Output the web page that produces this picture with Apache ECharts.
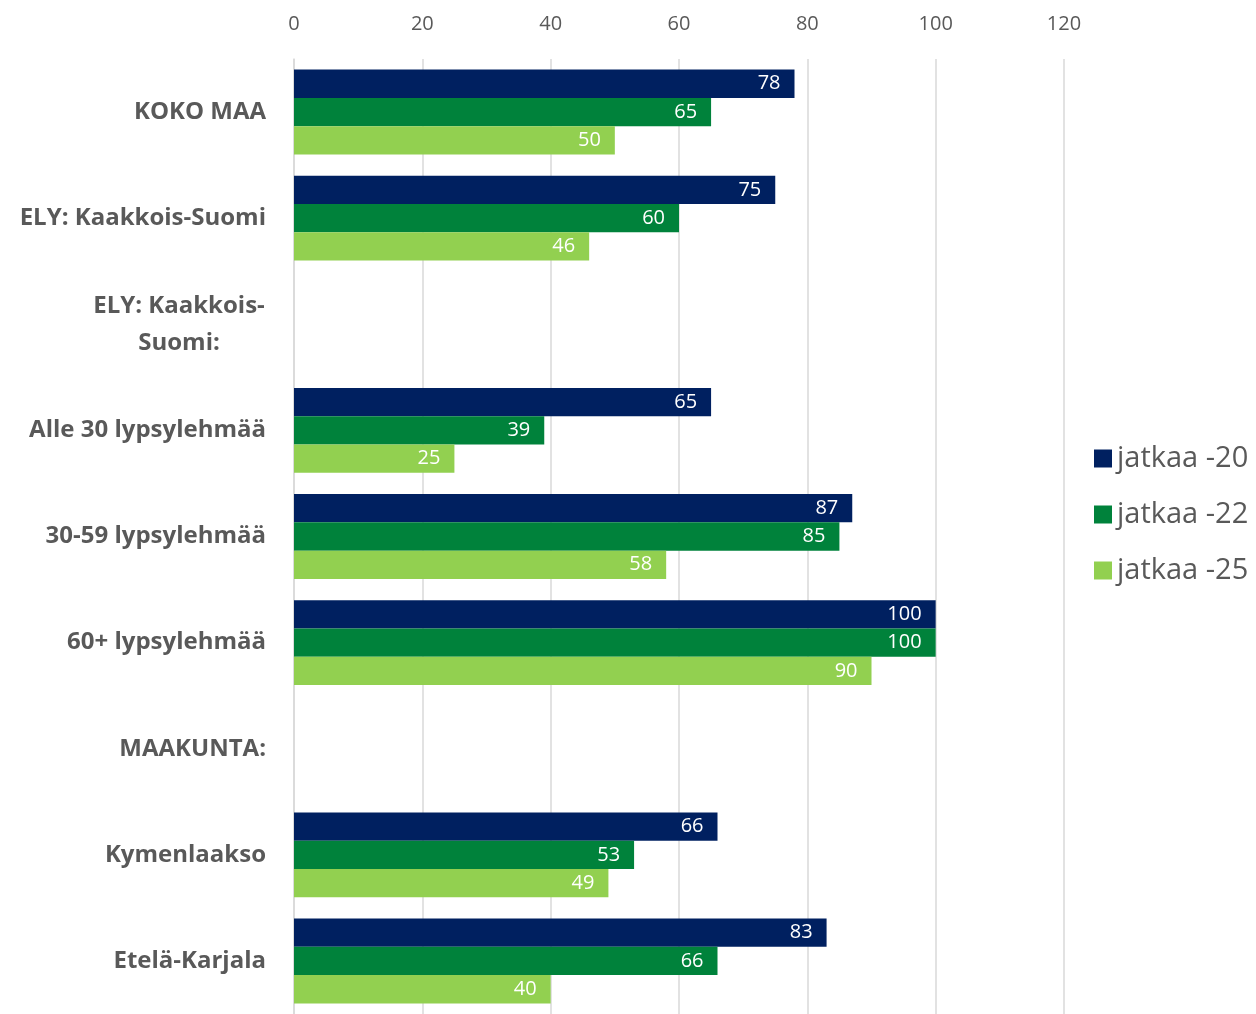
<!DOCTYPE html>
<html>
<head>
<meta charset="utf-8">
<script src="https://cdn.jsdelivr.net/npm/echarts@6/dist/echarts.min.js"></script>
<style>
  html, body { margin: 0; padding: 0; background: #fff; }
  #chart { width: 1256px; height: 1014px; }
</style>
</head>
<body>
<div id="chart"></div>
<script>
// categories top to bottom
const categories = [
  'KOKO MAA',
  'ELY: Kaakkois-Suomi',
  'ELY: Kaakkois-\nSuomi:',
  'Alle 30 lypsylehmää',
  '30-59 lypsylehmää',
  '60+ lypsylehmää',
  'MAAKUNTA:',
  'Kymenlaakso',
  'Etelä-Karjala'
];
const seriesNames = ['jatkaa -20', 'jatkaa -22', 'jatkaa -25'];
const jatkaa20 = [78, 75, null, 65, 87, 100, null, 66, 83];
const jatkaa22 = [65, 60, null, 39, 85, 100, null, 53, 66];
const jatkaa25 = [50, 46, null, 25, 58, 90, null, 49, 40];
const xTicks = { min: 0, max: 120, interval: 20 };

const colors = ['#002060', '#00823b', '#92d050'];
const textColor = '#595959';
const font = '"Open Sans", "Noto Sans", sans-serif';

const chart = echarts.init(document.getElementById('chart'));

function bar(name, data, color) {
  return {
    name: name,
    type: 'bar',
    data: data,
    barGap: 0,
    barCategoryGap: '20%',
    itemStyle: { color: color },
    label: {
      show: true,
      position: 'insideRight',
      color: '#fff',
      fontSize: 20,
      fontFamily: font,
      distance: 14
    }
  };
}

chart.setOption({
  animation: false,
  color: colors,
  grid: { left: 294, right: 192, top: 59, bottom: -6, containLabel: false },
  legend: {
    orient: 'vertical',
    left: 1089,
    top: 439,
    itemWidth: 18,
    itemHeight: 18,
    itemGap: 27,
    icon: 'rect',
    textStyle: { color: textColor, fontSize: 29, fontFamily: font },
    data: seriesNames
  },
  xAxis: {
    type: 'value',
    position: 'top',
    min: xTicks.min,
    max: xTicks.max,
    interval: xTicks.interval,
    axisLine: { show: false },
    axisTick: { show: false },
    axisLabel: { color: textColor, fontSize: 20, fontFamily: font, margin: 25 },
    splitLine: { lineStyle: { color: '#d9d9d9', width: 1.5 } }
  },
  yAxis: {
    type: 'category',
    inverse: true,
    data: categories,
    axisLine: { lineStyle: { color: '#d9d9d9', width: 1.5 } },
    axisTick: { show: false },
    axisLabel: {
      color: textColor,
      fontSize: 24,
      fontWeight: 'bold',
      fontFamily: font,
      margin: 28,
      lineHeight: 37,
      formatter: function (v) {
        if (v.indexOf('\n') >= 0) {
          return v.split('\n').map(function (s) { return '{c|' + s + '}'; }).join('\n');
        }
        return v;
      },
      rich: {
        c: {
          width: 174,
          align: 'center',
          color: textColor,
          fontSize: 24,
          fontWeight: 'bold',
          fontFamily: font,
          lineHeight: 37
        }
      }
    }
  },
  series: [
    bar(seriesNames[0], jatkaa20, colors[0]),
    bar(seriesNames[1], jatkaa22, colors[1]),
    bar(seriesNames[2], jatkaa25, colors[2])
  ]
});
</script>
</body>
</html>
